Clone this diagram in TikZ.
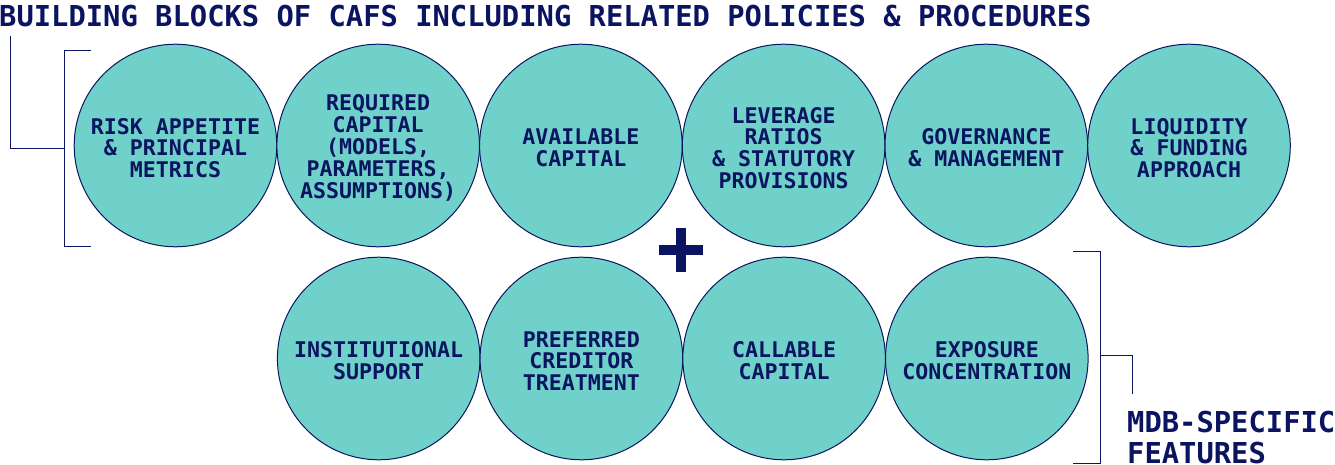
\documentclass[tikz,border=0pt]{standalone}
\usepackage{fontspec}
\setmonofont{DejaVu Sans Mono}
\definecolor{navy}{HTML}{0B1460}
\definecolor{teal}{HTML}{70D1CA}
\begin{document}
\begin{tikzpicture}[x=1pt,y=-1pt,
  blob/.style={circle,draw=navy,line width=1pt,fill=teal,minimum size=202.6pt,inner sep=0pt},
  txt/.style={text=navy,align=center,inner sep=0pt,yshift=-2.5pt,
    font=\fontsize{21.6}{21.8}\selectfont\ttfamily\bfseries},
  brk/.style={draw=navy,line width=1.4pt},
  lbl/.style={text=navy,inner sep=0pt,font=\fontsize{28.8}{30.6}\selectfont\ttfamily\bfseries}]
\useasboundingbox (0,0) rectangle (1335,465);
% title
\node[lbl,anchor=base west] (title) at (-1,27) {BUILDING BLOCKS OF CAFS INCLUDING RELATED POLICIES \& PROCEDURES};
% top row
\node[blob] (c1) at (175.5,145.5) {};
\node[blob] (c2) at (378.2,145.5) {};
\node[blob] (c3) at (580.9,145.5) {};
\node[blob] (c4) at (783.6,145.5) {};
\node[blob] (c5) at (986.3,145.5) {};
\node[blob] (c6) at (1189.0,145.5) {};
\node[txt] (t1) at (c1.center) {RISK APPETITE\\\& PRINCIPAL\\METRICS};
\node[txt] (t2) at (c2.center) {REQUIRED\\CAPITAL\\(MODELS,\\PARAMETERS,\\ASSUMPTIONS)};
\node[txt] (t3) at (c3.center) {AVAILABLE\\CAPITAL};
\node[txt] (t4) at (c4.center) {LEVERAGE\\RATIOS\\\& STATUTORY\\PROVISIONS};
\node[txt] (t5) at (c5.center) {GOVERNANCE\\\& MANAGEMENT};
\node[txt] (t6) at (c6.center) {LIQUIDITY\\\& FUNDING\\APPROACH};
% bottom row
\node[blob] (d1) at (378.7,358.5) {};
\node[blob] (d2) at (581.4,358.5) {};
\node[blob] (d3) at (784.1,358.5) {};
\node[blob] (d4) at (986.8,358.5) {};
\node[txt] (u1) at (d1.center) {INSTITUTIONAL\\SUPPORT};
\node[txt] (u2) at (d2.center) {PREFERRED\\CREDITOR\\TREATMENT};
\node[txt] (u3) at (d3.center) {CALLABLE\\CAPITAL};
\node[txt] (u4) at (d4.center) {EXPOSURE\\CONCENTRATION};
% plus
\fill[navy] (659.3,244.5) rectangle (702.7,254.5);
\fill[navy] (676,228) rectangle (686,271.5);
% left bracket
\coordinate (lt) at (91,50.7);
\coordinate (lb) at (91,246.7);
\coordinate (lm) at (64.5,148.3);
\coordinate (lend) at (10.3,36);
\draw[brk] (lt) -- (64.5,50.7) -- (64.5,246.7) -- (lb);
\draw[brk] (lm) -- (10.3,148.3) -- (lend);
% right bracket
\coordinate (rt) at (1073,251.7);
\coordinate (rb) at (1073,463.5);
\coordinate (rm) at (1100.7,355.7);
\coordinate (rend) at (1132.7,394);
\draw[brk] (rt) -- (1100.7,251.7) -- (1100.7,463.5) -- (rb);
\draw[brk] (rm) -- (1132.7,355.7) -- (rend);
\node[lbl,anchor=base west,align=left] (mdb) at (1127,463.5) {MDB-SPECIFIC\\FEATURES};
\end{tikzpicture}
\end{document}
